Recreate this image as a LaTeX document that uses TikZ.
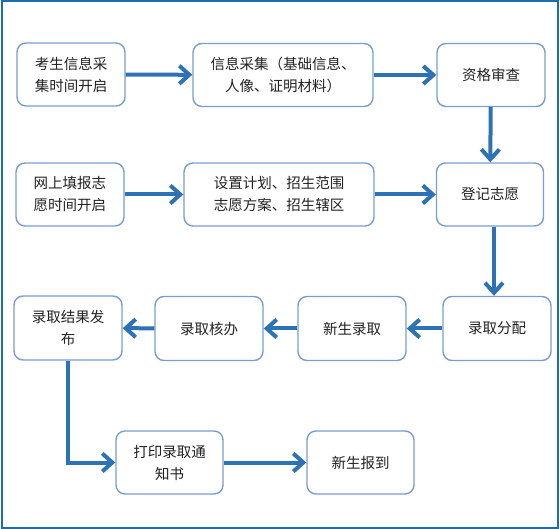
\documentclass[tikz,border=0pt]{standalone}
\usepackage{fontspec}
\newfontfamily\cjk{Noto Sans CJK SC}
\usetikzlibrary{arrows.meta}
\definecolor{framec}{HTML}{1F6DA8}
\definecolor{boxc}{HTML}{7A9DD0}
\definecolor{arrc}{HTML}{2E72B6}
\definecolor{txtc}{HTML}{222222}
\tikzset{
  stepbox/.style={draw=boxc, line width=1.4pt, rounded corners=9pt, fill=white,
    minimum height=63pt, inner sep=2pt, align=center, text=txtc,
    font=\cjk\fontsize{14.5}{22}\selectfont},
  flow/.style={draw=arrc, line width=4pt, -{Straight Barb[length=10pt,width=18pt]}}
}
\begin{document}
\begin{tikzpicture}[x=1pt,y=-1pt]
\useasboundingbox (0,0) rectangle (560,529);
\fill[white] (0,0) rectangle (560,529);
\draw[framec, line width=2pt] (1.5,1.5) rectangle (557.5,527.5);
% row 1
\node[stepbox, minimum width=108pt] (b1) at (71,74.5) {考生信息采\\集时间开启};
\node[stepbox, minimum width=180pt] (b2) at (283,75) {信息采集（基础信息、\\人像、证明材料）};
\node[stepbox, minimum width=108pt] (b3) at (491,75) {资格审查};
% row 2
\node[stepbox, minimum width=108pt] (b4) at (70,194.5) {网上填报志\\愿时间开启};
\node[stepbox, minimum width=190pt] (b5) at (279,194.5) {设置计划、招生范围\\志愿方案、招生辖区};
\node[stepbox, minimum width=107pt] (b6) at (490,194.5) {登记志愿};
% row 3
\node[stepbox, minimum width=108pt, minimum height=64pt] (b7) at (68,328) {录取结果发\\布};
\node[stepbox, minimum width=108pt, minimum height=64pt] (b8) at (209,328.5) {录取核办};
\node[stepbox, minimum width=108pt, minimum height=64pt] (b9) at (352,328.5) {新生录取};
\node[stepbox, minimum width=108pt, minimum height=64pt] (b10) at (497,328.5) {录取分配};
% row 4
\node[stepbox, minimum width=107pt] (b11) at (169.5,462.5) {打印录取通\\知书};
\node[stepbox, minimum width=107pt] (b12) at (360.5,462.5) {新生报到};
% connectors
\draw[flow] (b1) -- (b2);
\draw[flow] (b2) -- (b3);
\draw[flow] (b3) -- (b6);
\draw[flow] (b4.east) -- (b5.west |- b4.east);
\draw[flow] (b5) -- (b6);
\draw[flow] ([xshift=4pt]b6.south) -- ([xshift=4pt]b6.south |- b10.north);
\draw[flow] (b10) -- (b9);
\draw[flow] (b9) -- (b8);
\draw[flow] (b8) -- (b7);
\draw[flow, rounded corners=0pt] (b7.south) |- (b11.west);
\draw[flow] (b11) -- (b12);
\end{tikzpicture}
\end{document}
